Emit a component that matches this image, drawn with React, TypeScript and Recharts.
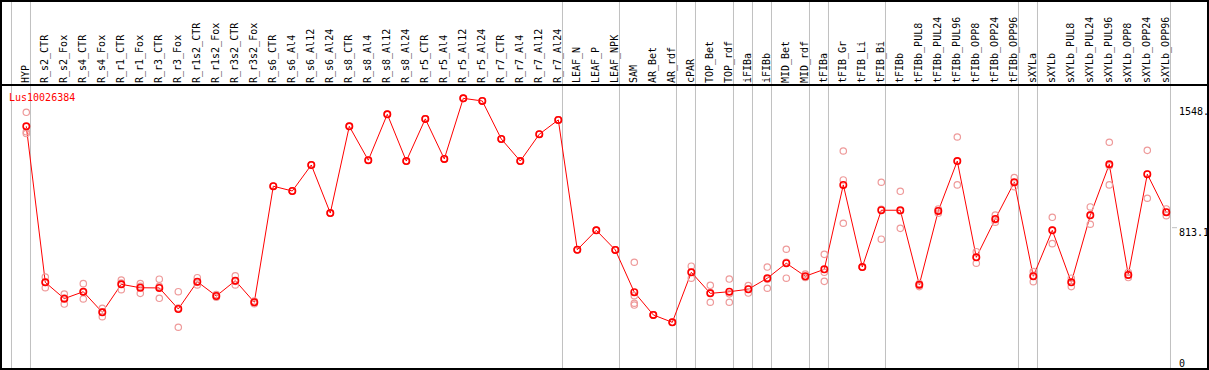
import React from 'react';
import { ComposedChart, Line, XAxis, YAxis, ReferenceLine } from 'recharts';

const categories = [
  'HYP', 'R_s2_CTR', 'R_s2_Fox', 'R_s4_CTR', 'R_s4_Fox', 'R_r1_CTR', 'R_r1_Fox', 'R_r3_CTR', 'R_r3_Fox',
  'R_r1s2_CTR', 'R_r1s2_Fox', 'R_r3s2_CTR', 'R_r3s2_Fox', 'R_s6_CTR', 'R_s6_Al4', 'R_s6_Al12', 'R_s6_Al24',
  'R_s8_CTR', 'R_s8_Al4', 'R_s8_Al12', 'R_s8_Al24', 'R_r5_CTR', 'R_r5_Al4', 'R_r5_Al12', 'R_r5_Al24',
  'R_r7_CTR', 'R_r7_Al4', 'R_r7_Al12', 'R_r7_Al24', 'LEAF_N', 'LEAF_P', 'LEAF_NPK', 'SAM', 'AR_Bet', 'AR_rdf',
  'cPAR', 'TOP_Bet', 'TOP_rdf', 'iFIBa', 'iFIBb', 'MID_Bet', 'MID_rdf', 'tFIBa', 'tFIB_Gr', 'tFIB_Li', 'tFIB_Bi',
  'tFIBb', 'tFIBb_PUL8', 'tFIBb_PUL24', 'tFIBb_PUL96', 'tFIBb_OPP8', 'tFIBb_OPP24', 'tFIBb_OPP96', 'sXYLa',
  'sXYLb', 'sXYLb_PUL8', 'sXYLb_PUL24', 'sXYLb_PUL96', 'sXYLb_OPP8', 'sXYLb_OPP24', 'sXYLb_OPP96',
];

const meanValues = [
  1429, 481, 382, 424, 299, 469, 448, 447, 319, 485, 398, 491, 360,
  1065, 1036, 1194, 902, 1429, 1223, 1502, 1218, 1474, 1231, 1599, 1583, 1352, 1218, 1381, 1468,
  679, 797, 678,
  421, 283, 238, 542, 414, 424, 439, 506, 597, 518, 560,
  1073, 574, 919, 919,
  467, 915, 1218, 633, 866, 1089,
  518, 797, 481, 888, 1198, 526, 1138, 907,
];

const rep1 = [
  1514, 513, 410, 473, 323, 495, 473, 500, 424, 509, 407, 521, 368,
  1065, 1036, 1194, 902, 1429, 1223, 1502, 1218, 1474, 1231, 1599, 1583, 1352, 1218, 1381, 1468,
  679, 797, 678,
  603, 283, 238, 579, 463, 501, 461, 574, 682, 531, 651,
  1279, 574, 1089, 1034,
  474, 927, 1364, 667, 890, 1117,
  546, 876, 506, 939, 1332, 541, 1283, 927,
];

const rep2 = [
  1396, 481, 386, 420, 302, 476, 457, 457, 325, 481, 398, 487, 360,
  1065, 1036, 1194, 902, 1429, 1223, 1502, 1218, 1474, 1231, 1599, 1583, 1352, 1218, 1381, 1468,
  679, 797, 678,
  400, 283, 238, 542, 419, 411, 440, 499, 603, 513, 542,
  1103, 574, 925, 914,
  467, 917, 1217, 635, 862, 1088,
  523, 799, 482, 891, 1189, 527, 1139, 907,
];

const rep3 = [
  1385, 448, 349, 380, 272, 436, 414, 384, 208, 465, 390, 465, 351,
  1065, 1036, 1194, 902, 1429, 1223, 1502, 1218, 1474, 1231, 1599, 1583, 1352, 1218, 1381, 1468,
  679, 797, 678,
  354, 283, 238, 506, 360, 360, 416, 445, 506, 510, 487,
  840, 574, 743, 809,
  455, 901, 1073, 597, 846, 1062,
  485, 716, 455, 834, 1073, 510, 992, 886,
];

const rep4: (number | null)[] = categories.map((c) => (c === 'SAM' ? 343 : null));

// group separators are drawn just after these category indices
const separatorsAfter = [-1, 0, 28, 31, 34, 35, 37, 38, 39, 41, 42, 45, 52, 53, 60];

const yTickValues = [0, 813.1, 1548];
const yTickLabels = ['0', '813.1', '1548.'];
const geneTitle = 'Lus10026384';

const W = 1209;
const H = 370;
const FONT = '"DejaVu Sans Mono", monospace';
const GRID = '#c0c0c0';
const RED = '#ff0000';
const REP = '#ee9a9a';

const X_MIN = -1.384;
const X_MAX = 60.3;
const Y_MIN = -45.6;
const Y_MAX = 1680;

const data = categories.map((name, i) => ({
  idx: i,
  name,
  mean: meanValues[i],
  r1: rep1[i],
  r2: rep2[i],
  r3: rep3[i],
  r4: rep4[i],
}));

const XTick = (props: any) => {
  const { x, payload } = props;
  const label = categories[payload.value];
  if (label === undefined) return <g />;
  return (
    <text
      transform={`translate(${x + 2.4},83) rotate(-90)`}
      fontSize={10}
      fontFamily={FONT}
      fill="#000"
      textAnchor="start"
    >
      {label}
    </text>
  );
};

const YTick = (props: any) => {
  const { y, payload } = props;
  const k = yTickValues.indexOf(payload.value);
  return (
    <text x={1179} y={Math.min(y + 8.5, 366.5)} fontSize={10} fontFamily={FONT} fill="#000" textAnchor="start">
      {k >= 0 ? yTickLabels[k] : ''}
    </text>
  );
};

const repDot = { r: 3.2, stroke: REP, strokeWidth: 1.2, fill: 'none' };

export default function App() {
  return (
    <div style={{ position: 'absolute', left: 0, top: 0, width: W, height: H, background: '#fff' }}>
      <ComposedChart width={W} height={H} data={data} margin={{ top: 0, right: 0, bottom: 1, left: 0 }}>
        <XAxis
          dataKey="idx"
          type="number"
          orientation="top"
          domain={[X_MIN, X_MAX]}
          allowDataOverflow
          ticks={categories.map((_, i) => i)}
          interval={0}
          height={85}
          axisLine={false}
          tickLine={false}
          tick={XTick}
        />
        <YAxis
          orientation="right"
          width={37}
          type="number"
          domain={[Y_MIN, Y_MAX]}
          allowDataOverflow
          ticks={yTickValues}
          interval={0}
          axisLine={false}
          tickLine={false}
          tick={YTick}
        />
        <ReferenceLine
          y={813.1}
          stroke={GRID}
          shape={(p: any) => (
            <line x1={p.x1} x2={1177} y1={p.y1} y2={p.y2} stroke={GRID} strokeWidth={1} />
          )}
        />
        {separatorsAfter.map((s) => (
          <ReferenceLine
            key={s}
            x={s + 0.22}
            stroke={GRID}
            shape={(p: any) => (
              <line x1={p.x1} x2={p.x2} y1={0} y2={369} stroke={GRID} strokeWidth={1} />
            )}
          />
        ))}
        <Line dataKey="r1" stroke="none" dot={repDot} activeDot={false} isAnimationActive={false} />
        <Line dataKey="r2" stroke="none" dot={repDot} activeDot={false} isAnimationActive={false} />
        <Line dataKey="r3" stroke="none" dot={repDot} activeDot={false} isAnimationActive={false} />
        <Line dataKey="r4" stroke="none" dot={repDot} activeDot={false} isAnimationActive={false} />
        <Line
          dataKey="mean"
          stroke={RED}
          strokeWidth={1}
          dot={{ r: 3.2, stroke: RED, strokeWidth: 1.6, fill: 'none' }}
          activeDot={false}
          isAnimationActive={false}
        />
      </ComposedChart>
      <div
        style={{
          position: 'absolute',
          left: 0,
          top: 0,
          width: W,
          height: H,
          border: '2px solid #000',
          boxSizing: 'border-box',
          pointerEvents: 'none',
        }}
      />
      <div style={{ position: 'absolute', left: 0, top: 84, width: W, height: 2, background: '#000' }} />
      <div
        style={{
          position: 'absolute',
          left: 9,
          top: 92.8,
          fontFamily: FONT,
          fontSize: 10,
          lineHeight: '10px',
          color: RED,
          whiteSpace: 'nowrap',
        }}
      >
        {geneTitle}
      </div>
    </div>
  );
}
